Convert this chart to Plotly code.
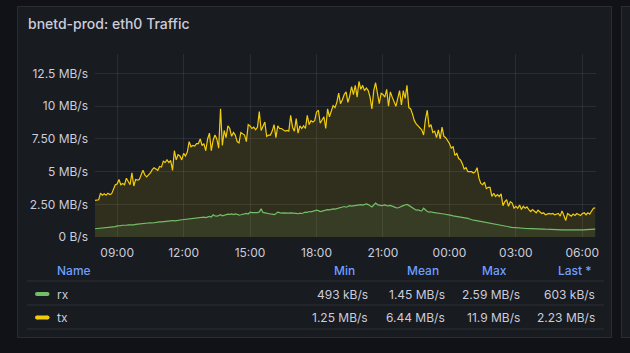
import pandas as pd
import plotly.graph_objects as go

# ---------------- data (MB/s, 5-minute samples from 08:00) ----------------
START = "2024-01-01 08:00"
STEP = "5min"

tx_values = [
    2.80, 2.85, 2.85, 3.35, 3.20, 3.30, 3.20, 3.35, 3.25, 3.30, 3.70, 4.00,   # 08
    4.05, 4.40, 4.00, 4.10, 4.00, 4.50, 4.25, 4.00, 4.90, 3.90, 4.40, 4.35,   # 09
    4.40, 4.75, 5.10, 4.75, 4.60, 4.75, 4.90, 5.15, 5.30, 5.20, 5.10, 5.40,   # 10
    5.35, 5.80, 5.70, 5.90, 5.70, 5.85, 5.10, 6.60, 5.90, 6.30, 6.20, 5.90,   # 11
    6.40, 6.20, 6.50, 7.30, 6.90, 7.00, 6.95, 7.15, 7.15, 7.50, 7.00, 7.15,   # 12
    6.60, 7.50, 7.95, 6.60, 7.40, 7.80, 7.50, 6.80, 9.80, 7.00, 8.15, 7.60,   # 13
    8.50, 8.30, 7.70, 8.00, 7.80, 7.30, 7.20, 8.00, 7.90, 7.80, 7.30, 8.60,   # 14
    8.50, 8.30, 8.40, 8.20, 8.40, 9.60, 8.15, 8.50, 8.80, 7.70, 7.80, 7.80,   # 15
    8.10, 8.60, 7.60, 8.50, 8.30, 8.30, 8.20, 8.10, 8.15, 8.10, 9.30, 8.40,   # 16
    8.10, 9.05, 7.95, 8.50, 8.30, 8.50, 8.30, 9.30, 8.60, 8.90, 8.80, 8.90,   # 17
    9.55, 9.70, 8.70, 9.00, 9.20, 8.30, 9.80, 9.20, 9.60, 10.05, 9.90, 10.30, # 18
    11.00, 10.20, 10.50, 10.90, 11.10, 10.30, 10.80, 11.50, 10.90, 11.60, 10.70, 11.90,  # 19
    11.30, 11.60, 11.20, 11.40, 11.20, 10.70, 9.80, 11.20, 11.80, 11.00, 10.20, 11.00,   # 20
    10.90, 10.70, 11.30, 10.00, 11.10, 10.70, 10.30, 10.00, 10.60, 11.20, 10.10, 11.20,  # 21
    10.60, 11.60, 9.90, 9.80, 9.40, 8.90, 8.65, 8.50, 8.40, 8.20, 7.80, 9.00,  # 22
    9.70, 8.40, 8.60, 8.00, 8.10, 7.60, 8.20, 7.50, 8.40, 7.70, 7.60, 7.40,   # 23
    7.15, 6.80, 6.90, 6.25, 6.40, 6.00, 5.90, 5.60, 5.20, 5.30, 5.00, 5.00,   # 00
    5.00, 4.90, 5.00, 5.30, 4.50, 4.10, 4.00, 4.20, 3.70, 3.80, 3.80, 3.10,   # 01
    3.35, 3.10, 3.25, 3.10, 3.30, 2.40, 2.70, 2.85, 2.35, 2.70, 2.60, 2.20,   # 02
    2.35, 2.20, 2.45, 2.10, 2.35, 2.20, 2.30, 2.10, 1.95, 2.10, 1.95, 1.85,   # 03
    2.05, 1.95, 1.80, 1.85, 1.70, 1.75, 1.80, 1.75, 1.80, 1.70, 1.75, 1.80,   # 04
    1.60, 2.00, 1.65, 1.25, 1.80, 1.70, 1.60, 1.75, 1.65, 1.80, 1.70, 1.65,   # 05
    1.80, 1.85, 1.70, 1.85, 1.75, 1.95, 2.20, 2.23,                           # 06
]

rx_values = [
    0.63, 0.64, 0.65, 0.66, 0.68, 0.70, 0.72, 0.73, 0.76, 0.75, 0.78, 0.80,   # 08
    0.85, 0.84, 0.87, 0.90, 0.88, 0.90, 0.92, 0.91, 0.95, 0.93, 0.96, 0.98,   # 09
    1.00, 0.99, 1.02, 1.04, 1.03, 1.06, 1.09, 1.07, 1.10, 1.12, 1.11, 1.15,   # 10
    1.16, 1.18, 1.17, 1.20, 1.22, 1.21, 1.26, 1.24, 1.28, 1.27, 1.30, 1.32,   # 11
    1.34, 1.33, 1.37, 1.40, 1.38, 1.44, 1.42, 1.46, 1.49, 1.47, 1.50, 1.52,   # 12
    1.49, 1.55, 1.58, 1.53, 1.70, 1.62, 1.60, 1.64, 1.70, 1.62, 1.68, 1.72,   # 13
    1.75, 1.73, 1.77, 1.71, 1.76, 1.74, 1.68, 1.70, 1.73, 1.78, 1.80, 1.76,   # 14
    1.90, 1.87, 1.85, 1.88, 1.86, 1.92, 2.15, 1.88, 1.84, 1.80, 1.82, 1.76,   # 15
    1.75, 1.72, 1.78, 1.90, 1.86, 1.82, 1.85, 1.83, 1.80, 1.82, 1.84, 1.81,   # 16
    1.83, 1.80, 1.78, 1.82, 1.80, 1.86, 1.90, 1.88, 1.95, 1.92, 1.97, 2.00,   # 17
    2.05, 2.02, 1.95, 1.98, 2.02, 2.06, 2.10, 2.08, 2.12, 2.15, 2.13, 2.18,   # 18
    2.20, 2.25, 2.30, 2.33, 2.28, 2.32, 2.40, 2.36, 2.38, 2.42, 2.40, 2.45,   # 19
    2.48, 2.44, 2.50, 2.53, 2.48, 2.38, 2.30, 2.45, 2.59, 2.48, 2.44, 2.40,   # 20
    2.42, 2.45, 2.40, 2.38, 2.42, 2.35, 2.30, 2.25, 2.22, 2.30, 2.35, 2.40,   # 21
    2.45, 2.50, 2.42, 2.35, 2.25, 2.15, 2.05, 2.08, 2.02, 2.00, 2.20, 2.05,   # 22
    1.95, 1.90, 1.93, 1.88, 1.85, 1.87, 1.82, 1.80, 1.78, 1.76, 1.72, 1.70,   # 23
    1.67, 1.65, 1.62, 1.60, 1.56, 1.54, 1.55, 1.50, 1.48, 1.46, 1.42, 1.38,   # 00
    1.30, 1.28, 1.27, 1.24, 1.22, 1.20, 1.18, 1.15, 1.14, 1.12, 1.08, 1.05,   # 01
    1.02, 1.00, 0.96, 0.93, 0.90, 0.88, 0.82, 0.80, 0.78, 0.76, 0.74, 0.72,   # 02
    0.70, 0.70, 0.69, 0.68, 0.67, 0.66, 0.66, 0.65, 0.65, 0.64, 0.64, 0.63,   # 03
    0.63, 0.62, 0.62, 0.61, 0.60, 0.60, 0.59, 0.58, 0.58, 0.57, 0.57, 0.56,   # 04
    0.55, 0.55, 0.54, 0.54, 0.52, 0.50, 0.493, 0.52, 0.53, 0.54, 0.54, 0.55,  # 05
    0.55, 0.55, 0.56, 0.56, 0.57, 0.58, 0.60, 0.603,                          # 06
]

series_names = ["rx", "tx"]
series_colors = ["#73BF69", "#F2CC0C"]
fill_colors = ["rgba(115,191,105,0.10)", "rgba(242,204,12,0.11)"]

y_tick_vals = [0, 2.5, 5, 7.5, 10, 12.5]
y_tick_text = ["0 B/s", "2.50 MB/s", "5 MB/s", "7.50 MB/s", "10 MB/s", "12.5 MB/s"]
x_range = ["2024-01-01 08:00", "2024-01-02 06:37"]
x_tick0 = "2024-01-01 09:00"

legend_headers = ["Name", "Min", "Mean", "Max", "Last *"]
legend_stats = {
    "rx": ["493 kB/s", "1.45 MB/s", "2.59 MB/s", "603 kB/s"],
    "tx": ["1.25 MB/s", "6.44 MB/s", "11.9 MB/s", "2.23 MB/s"],
}
title = "bnetd-prod: eth0 Traffic"

# ---------------- layout helpers ----------------
WIDTH, HEIGHT = 630, 353
ML, MR, MT, MB = 95, 34, 54, 116
PW = WIDTH - ML - MR
PH = HEIGHT - MT - MB
PAD = 2  # annotation inner padding compensation


def px(x):
    return (x - ML) / PW


def py(y):
    return (HEIGHT - MB - y) / PH


FONT = "Inter, Roboto, sans-serif"
TEXT = "#ccccdc"
BLUE = "#6e9fff"
BORDER = "rgba(204,204,220,0.12)"

tx_time = pd.date_range(START, periods=len(tx_values), freq=STEP)
rx_time = pd.date_range(START, periods=len(rx_values), freq=STEP)

fig = go.Figure()
fig.add_trace(go.Scatter(x=tx_time, y=tx_values, mode="lines", name="tx",
                         line=dict(color=series_colors[1], width=1.2),
                         fill="tozeroy", fillcolor=fill_colors[1]))
fig.add_trace(go.Scatter(x=rx_time, y=rx_values, mode="lines", name="rx",
                         line=dict(color=series_colors[0], width=1.2),
                         fill="tozeroy", fillcolor=fill_colors[0]))

shapes = []
shapes.append(dict(type="rect", xref="paper", yref="paper", layer="below",
                   x0=px(17.5), x1=px(611.5), y0=py(6.5), y1=py(337.5),
                   fillcolor="#181b1f", line=dict(color=BORDER, width=1)))
shapes.append(dict(type="rect", xref="paper", yref="paper", layer="below",
                   x0=px(621.5), x1=px(660), y0=py(6.5), y1=py(337.5),
                   fillcolor="#181b1f", line=dict(color=BORDER, width=1)))
for ys in [281, 305, 329]:
    shapes.append(dict(type="line", xref="paper", yref="paper",
                       x0=px(27), x1=px(604), y0=py(ys), y1=py(ys),
                       line=dict(color=BORDER, width=1)))

annotations = [dict(text=title, xref="paper", yref="paper", x=px(27.5 - PAD), y=py(23),
                    xanchor="left", yanchor="middle", showarrow=False,
                    font=dict(family=FONT, size=14, color=TEXT, weight=500))]

col_right_header = [None, 355, 439, 507, 592]
col_right_vals = [None, 368, 445, 520, 595]
header_y = 270
annotations.append(dict(text=legend_headers[0], xref="paper", yref="paper",
                        x=px(57.3 - PAD), y=py(header_y), xanchor="left", yanchor="middle",
                        showarrow=False, font=dict(family=FONT, size=12, color=BLUE, weight=500)))
for i in range(1, 5):
    annotations.append(dict(text=legend_headers[i], xref="paper", yref="paper",
                            x=px(col_right_header[i] + PAD), y=py(header_y), xanchor="right",
                            yanchor="middle", showarrow=False,
                            font=dict(family=FONT, size=12, color=BLUE, weight=500)))

row_y = [294, 317.5]
for r, name in enumerate(series_names):
    yy = row_y[r]
    shapes.append(dict(type="line", xref="paper", yref="paper",
                       x0=px(37), x1=px(47.5), y0=py(yy), y1=py(yy),
                       line=dict(color=series_colors[r], width=4)))
    shapes.append(dict(type="circle", xref="paper", yref="paper",
                       x0=px(35), x1=px(39), y0=py(yy + 2), y1=py(yy - 2),
                       fillcolor=series_colors[r], line=dict(width=0)))
    shapes.append(dict(type="circle", xref="paper", yref="paper",
                       x0=px(45.5), x1=px(49.5), y0=py(yy + 2), y1=py(yy - 2),
                       fillcolor=series_colors[r], line=dict(width=0)))
    annotations.append(dict(text=name, xref="paper", yref="paper", x=px(57.3 - PAD), y=py(yy),
                            xanchor="left", yanchor="middle", showarrow=False,
                            font=dict(family=FONT, size=12, color=TEXT)))
    for c, val in enumerate(legend_stats[name]):
        annotations.append(dict(text=val, xref="paper", yref="paper",
                                x=px(col_right_vals[c + 1] + PAD), y=py(yy),
                                xanchor="right", yanchor="middle", showarrow=False,
                                font=dict(family=FONT, size=12, color=TEXT)))

fig.update_layout(
    width=WIDTH, height=HEIGHT,
    margin=dict(l=ML, r=MR, t=MT, b=MB, pad=0),
    paper_bgcolor="#111217", plot_bgcolor="rgba(0,0,0,0)",
    showlegend=False,
    shapes=shapes, annotations=annotations,
    font=dict(family=FONT, size=12, color=TEXT),
    xaxis=dict(type="date", range=x_range, tick0=x_tick0, dtick=3 * 3600 * 1000,
               tickformat="%H:%M", showgrid=True, gridcolor="rgba(204,204,220,0.10)",
               gridwidth=1, zeroline=False, showline=False, ticks="",
               ticklabelstandoff=7, tickfont=dict(family=FONT, size=12, color=TEXT)),
    yaxis=dict(range=[0, 14], tickvals=y_tick_vals, ticktext=y_tick_text,
               showgrid=True, gridcolor="rgba(204,204,220,0.10)", gridwidth=1,
               zeroline=False, showline=False, ticks="", ticklabelstandoff=6,
               tickfont=dict(family=FONT, size=12, color=TEXT)),
)

fig.write_html("out.html")
